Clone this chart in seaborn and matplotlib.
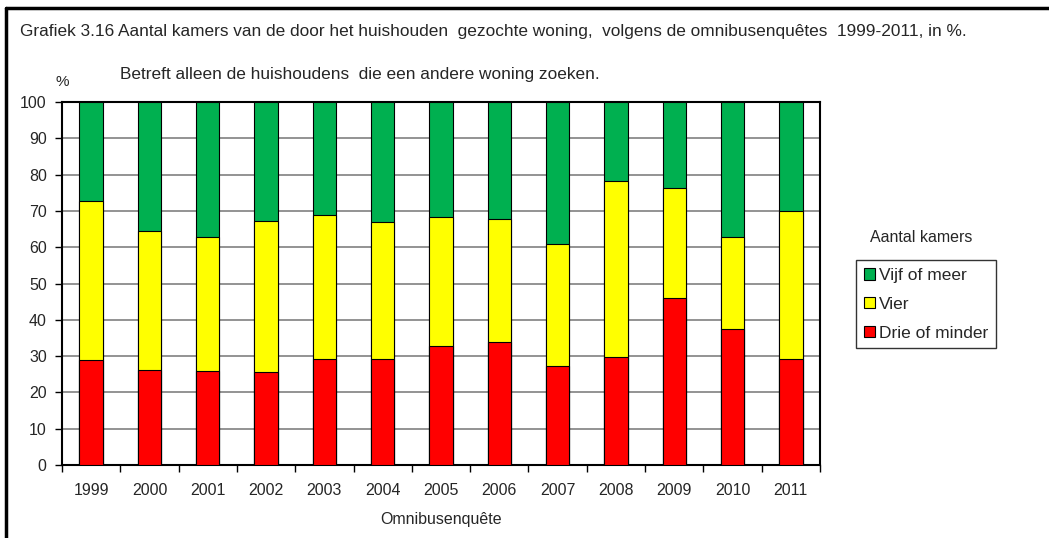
import matplotlib
matplotlib.use("Agg")
import matplotlib.pyplot as plt
import seaborn as sns
import pandas as pd
from matplotlib.lines import Line2D
from matplotlib.patches import Patch
from matplotlib.ticker import MultipleLocator, FixedLocator

years = ["1999", "2000", "2001", "2002", "2003", "2004", "2005",
         "2006", "2007", "2008", "2009", "2010", "2011"]
drie_of_minder = [29.0, 26.1, 25.9, 25.6, 29.2, 29.2, 32.8, 34.0, 27.4, 29.8, 46.0, 37.6, 29.3]
vier = [43.7, 38.5, 36.9, 41.6, 39.8, 37.7, 35.6, 33.9, 33.5, 48.3, 30.2, 25.2, 40.7]
vijf_of_meer = [27.3, 35.4, 37.2, 32.8, 31.0, 33.1, 31.6, 32.1, 39.1, 21.9, 23.8, 37.2, 30.0]

series = ["Drie of minder", "Vier", "Vijf of meer"]
colors = {"Drie of minder": "#ff0000", "Vier": "#ffff00", "Vijf of meer": "#00b050"}

df = pd.DataFrame({"jaar": years, "Drie of minder": drie_of_minder,
                   "Vier": vier, "Vijf of meer": vijf_of_meer})

sns.set_theme(style="white")
plt.rcParams["font.family"] = ["Liberation Sans", "DejaVu Sans"]

fig = plt.figure(figsize=(10.49, 5.38), dpi=100)
ax = fig.add_axes([62 / 1049, 1 - 465 / 538, 758 / 1049, 363 / 538])

# stacked bars: draw cumulative totals from top segment down
cum = df[series].cumsum(axis=1)
for s in reversed(series):
    sns.barplot(x=df["jaar"], y=cum[s], color=colors[s], width=0.4,
                edgecolor="black", linewidth=0.8, saturation=1, ax=ax, zorder=3)

ax.set_ylim(0, 100)
ax.set_xlim(-0.5, 12.5)
ax.yaxis.set_major_locator(MultipleLocator(10))
ax.yaxis.grid(True, color="#808080", linewidth=1.2, zorder=0)
ax.set_axisbelow(True)
ax.set_xlabel("Omnibusenquête", fontsize=11.5, labelpad=10)
ax.set_ylabel("")
ax.tick_params(axis="y", which="major", direction="out", length=5, width=1,
               color="black", labelsize=11.5, pad=6, left=True)
ax.tick_params(axis="x", which="major", length=0, labelsize=11.5, pad=13)
ax.xaxis.set_minor_locator(FixedLocator([i - 0.5 for i in range(len(years) + 1)]))
ax.tick_params(axis="x", which="minor", direction="out", length=5, width=1,
               color="black", bottom=True)
for side in ax.spines.values():
    side.set_color("black")
    side.set_linewidth(1.5)

fig.text(55 / 1049, 1 - 86 / 538, "%", fontsize=11, va="baseline")
fig.text(20 / 1049, 1 - 36 / 538,
         "Grafiek 3.16 Aantal kamers van de door het huishouden  gezochte woning,  volgens de omnibusenquêtes  1999-2011, in %.",
         fontsize=12.4, va="baseline")
fig.text(120 / 1049, 1 - 79 / 538, "Betreft alleen de huishoudens  die een andere woning zoeken.",
         fontsize=12.4, va="baseline")

fig.text(870 / 1049, 1 - 237 / 538, "Aantal kamers", fontsize=11.5, va="center")
handles = [Patch(facecolor=colors[s], edgecolor="black", linewidth=0.8) for s in reversed(series)]
leg = fig.legend(handles, list(reversed(series)), loc="upper left",
                 bbox_to_anchor=(856 / 1049, 1 - 260 / 538), fontsize=12.5,
                 frameon=True, fancybox=False, edgecolor="black", handlelength=0.65,
                 handleheight=0.65, handletextpad=0.2, borderpad=0.45,
                 borderaxespad=0, labelspacing=0.8)
leg.get_frame().set_linewidth(1.0)

# outer frame (top and left edges)
fig.add_artist(Line2D([6 / 1049, 6 / 1049], [0, 1 - 8 / 538], transform=fig.transFigure,
                      color="black", linewidth=2.5))
fig.add_artist(Line2D([6 / 1049, 1], [1 - 8 / 538, 1 - 8 / 538], transform=fig.transFigure,
                      color="black", linewidth=2.5))

fig.savefig("out.png", dpi=100, facecolor="white")
